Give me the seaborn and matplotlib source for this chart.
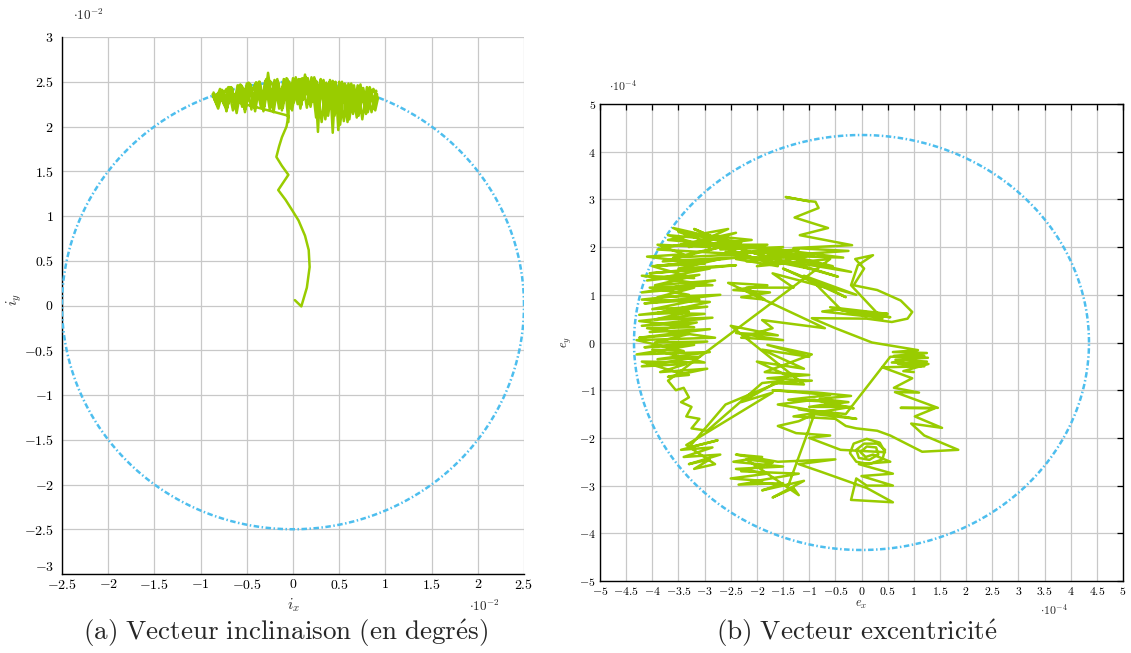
import numpy as np
import pandas as pd
import matplotlib
matplotlib.use("Agg")
import matplotlib.pyplot as plt
import seaborn as sns

# ---------------- DATA ----------------
# (a) inclination vector, units of 1e-2 deg
incl_radius = 2.5
incl_stem = [(0.02, 0.06), (0.09, -0.01), (0.15, 0.20), (0.18, 0.43), (0.17, 0.62), (0.13, 0.78),
             (0.06, 0.95), (0.00, 1.05), (-0.08, 1.18), (-0.16, 1.29), (-0.05, 1.46), (-0.12, 1.56),
             (-0.18, 1.66), (-0.15, 1.78), (-0.12, 1.88), (-0.07, 2.00), (-0.05, 2.12)]
incl_sweep1 = [(-0.85, 2.34), (-0.82, 2.24), (-0.76, 2.40), (-0.72, 2.18), (-0.66, 2.43), (-0.62, 2.20),
               (-0.56, 2.45), (-0.52, 2.16), (-0.46, 2.47), (-0.42, 2.21), (-0.36, 2.50), (-0.32, 2.17),
               (-0.27, 2.60), (-0.22, 2.22), (-0.17, 2.49), (-0.12, 2.26), (-0.07, 2.51), (-0.02, 2.20),
               (0.03, 2.52), (0.08, 2.28), (0.13, 2.58), (0.18, 2.25), (0.23, 2.53), (0.28, 2.20),
               (0.33, 2.50), (0.38, 2.24), (0.43, 2.49), (0.48, 2.18), (0.53, 2.47), (0.58, 2.22),
               (0.63, 2.46), (0.68, 2.19), (0.73, 2.44), (0.78, 2.23), (0.83, 2.41), (0.88, 2.20),
               (0.91, 2.36)]
incl_sweep2 = [(0.86, 2.40), (0.81, 2.16), (0.76, 2.43), (0.71, 2.12), (0.66, 2.46), (0.61, 2.08),
               (0.56, 2.47), (0.51, 2.02), (0.46, 2.49), (0.43, 1.93), (0.40, 2.50), (0.35, 2.15),
               (0.30, 2.52), (0.27, 1.94), (0.24, 2.51), (0.19, 2.22), (0.14, 2.55), (0.09, 2.24),
               (0.04, 2.50), (-0.01, 2.18), (-0.06, 2.53), (-0.11, 2.21), (-0.16, 2.50), (-0.21, 2.16),
               (-0.26, 2.52), (-0.31, 2.22), (-0.36, 2.48), (-0.41, 2.17), (-0.46, 2.46), (-0.51, 2.22),
               (-0.56, 2.44), (-0.61, 2.15), (-0.66, 2.42), (-0.71, 2.22), (-0.76, 2.39), (-0.81, 2.20),
               (-0.86, 2.33)]
incl_sweep3 = [(-0.80, 2.38), (-0.74, 2.23), (-0.69, 2.44), (-0.63, 2.24), (-0.58, 2.46), (-0.53, 2.25),
               (-0.48, 2.49), (-0.43, 2.26), (-0.38, 2.48), (-0.33, 2.24), (-0.29, 2.53), (-0.24, 2.27),
               (-0.19, 2.50), (-0.14, 2.24), (-0.09, 2.52), (-0.05, 2.05), (-0.04, 2.50), (0.01, 2.27),
               (0.06, 2.53), (0.11, 2.30), (0.16, 2.54), (0.21, 2.28), (0.26, 2.50), (0.31, 2.05),
               (0.36, 2.49), (0.41, 2.28), (0.46, 2.50), (0.49, 1.96), (0.54, 2.45), (0.59, 2.05),
               (0.64, 2.45), (0.69, 2.10), (0.74, 2.43), (0.79, 2.14), (0.84, 2.40), (0.89, 2.18),
               (0.92, 2.32)]
incl_sweep4 = [(0.87, 2.42), (0.80, 2.30), (0.72, 2.45), (0.64, 2.32), (0.56, 2.48), (0.48, 2.33),
               (0.40, 2.50), (0.32, 2.34), (0.24, 2.52), (0.16, 2.35), (0.08, 2.53), (0.00, 2.36),
               (-0.08, 2.51), (-0.16, 2.34), (-0.24, 2.50), (-0.32, 2.35), (-0.40, 2.49), (-0.48, 2.33),
               (-0.56, 2.46), (-0.64, 2.32), (-0.72, 2.42), (-0.80, 2.30), (-0.87, 2.36)]
incl_sweep5 = [(-0.84, 2.28), (-0.79, 2.42), (-0.75, 2.26), (-0.70, 2.44), (-0.65, 2.18), (-0.60, 2.46),
               (-0.55, 2.22), (-0.50, 2.48), (-0.45, 2.19), (-0.40, 2.49), (-0.35, 2.23), (-0.30, 2.51),
               (-0.25, 2.18), (-0.20, 2.52), (-0.15, 2.20), (-0.10, 2.53), (-0.05, 2.22), (0.00, 2.54),
               (0.05, 2.25), (0.10, 2.54), (0.15, 2.21), (0.20, 2.55), (0.25, 2.10), (0.30, 2.53),
               (0.35, 2.08), (0.40, 2.52), (0.45, 2.12), (0.50, 2.50), (0.55, 2.06), (0.60, 2.48),
               (0.65, 2.14), (0.70, 2.46), (0.75, 2.08), (0.80, 2.44), (0.85, 2.16), (0.90, 2.40)]
incl_sweep6 = [(0.88, 2.28), (0.83, 2.44), (0.78, 2.18), (0.73, 2.47), (0.68, 2.24), (0.63, 2.48),
               (0.58, 2.15), (0.53, 2.50), (0.48, 2.26), (0.43, 2.51), (0.38, 2.12), (0.33, 2.52),
               (0.28, 2.30), (0.23, 2.55), (0.18, 2.30), (0.13, 2.52), (0.08, 2.20), (0.03, 2.55),
               (-0.02, 2.30), (-0.07, 2.54), (-0.12, 2.18), (-0.17, 2.53), (-0.22, 2.30), (-0.27, 2.51),
               (-0.32, 2.20), (-0.37, 2.50), (-0.42, 2.28), (-0.47, 2.48), (-0.52, 2.19), (-0.57, 2.47),
               (-0.62, 2.27), (-0.67, 2.44), (-0.72, 2.17), (-0.77, 2.41), (-0.82, 2.27), (-0.86, 2.38)]
incl_xticks = [-2.5, -2, -1.5, -1, -0.5, 0, 0.5, 1, 1.5, 2, 2.5]
incl_yticks = [-3, -2.5, -2, -1.5, -1, -0.5, 0, 0.5, 1, 1.5, 2, 2.5, 3]

# (b) eccentricity vector, units of 1e-4
ecc_radius = 4.35
ecc_spike = [(-1.00, 2.96), (-1.45, 3.05), (-1.05, 2.97), (-0.88, 2.95), (-0.82, 2.82), (-1.28, 2.62),
             (-0.64, 2.40), (-1.18, 2.25), (-0.18, 2.04)]
ecc_band = [(-1.30, 1.98), (-0.25, 1.92), (-1.65, 1.82), (-0.35, 1.78), (-2.10, 2.02), (-0.55, 1.60),
            (-1.90, 1.90), (-0.20, 1.48), (-1.40, 1.70), (-0.45, 1.38), (-2.30, 1.95), (-1.00, 1.55),
            (-2.60, 1.90), (-1.20, 1.85), (-2.40, 1.75), (-1.60, 1.60)]
ecc_upleft = [(-3.50, 2.32), (-2.30, 2.10), (-3.45, 2.05), (-2.20, 2.00), (-3.70, 2.15), (-2.55, 2.38),
              (-3.30, 2.00), (-2.40, 2.30), (-3.90, 1.95), (-2.30, 1.85), (-3.60, 1.78), (-2.50, 2.05),
              (-3.80, 1.70), (-2.20, 1.80), (-3.95, 1.60), (-2.70, 1.75), (-3.50, 1.55), (-2.40, 1.62)]
ecc_left = [(-4.05, 1.45), (-2.90, 1.55), (-4.10, 1.30), (-3.10, 1.42), (-3.95, 1.20), (-2.80, 1.30),
            (-4.20, 1.05), (-3.20, 1.15), (-3.90, 0.95), (-2.70, 1.00), (-4.15, 0.82), (-3.10, 0.90),
            (-4.00, 0.70), (-2.95, 0.75), (-4.25, 0.58), (-3.30, 0.65), (-3.95, 0.48), (-2.85, 0.52),
            (-4.20, 0.35), (-3.15, 0.42), (-4.05, 0.22), (-2.90, 0.28), (-4.25, 0.10), (-3.30, 0.18),
            (-3.95, 0.00), (-2.95, 0.02), (-4.15, -0.10), (-3.20, -0.05), (-4.30, -0.25), (-2.90, -0.20),
            (-3.90, -0.35), (-3.10, -0.30), (-4.20, -0.50), (-3.35, -0.45), (-3.85, -0.62), (-2.95, -0.55),
            (-3.70, -0.72), (-3.30, -0.68)]
ecc_left2 = [(-3.60, -0.60), (-4.20, -0.40), (-3.00, -0.42), (-4.00, -0.15), (-3.40, -0.18), (-4.30, 0.05),
             (-2.80, 0.10), (-4.10, 0.30), (-3.20, 0.32), (-4.25, 0.45), (-3.00, 0.60), (-3.90, 0.62),
             (-2.90, 0.85), (-4.20, 0.90), (-3.30, 1.00), (-4.05, 1.15), (-2.85, 1.20), (-4.20, 1.40),
             (-3.20, 1.35), (-4.00, 1.60), (-3.00, 1.65), (-4.10, 1.80), (-3.40, 1.85), (-3.90, 2.05),
             (-2.90, 2.00), (-3.70, 2.25), (-3.20, 2.20)]
ecc_upleft2 = [(-3.60, 2.40), (-2.80, 2.20), (-3.40, 2.30), (-2.60, 2.10), (-3.20, 2.38), (-2.40, 2.00),
               (-3.00, 2.25), (-2.10, 2.15), (-2.90, 2.05), (-1.80, 2.05), (-2.70, 1.95), (-1.50, 2.00),
               (-2.50, 1.85), (-1.20, 1.95), (-2.20, 1.70), (-0.90, 1.85), (-2.00, 1.60), (-0.60, 1.75)]
ecc_descent = [(-3.70, -0.80), (-3.55, -1.00), (-3.40, -0.95), (-3.30, -1.15), (-3.45, -1.25),
               (-3.25, -1.35), (-3.35, -1.55), (-3.10, -1.60), (-3.25, -1.80), (-2.95, -1.85),
               (-1.90, -0.85), (-1.50, -0.80), (-2.60, -1.30), (-3.30, -2.20)]
ecc_lowleft = [(-2.75, -2.05), (-3.45, -2.25), (-2.85, -2.20), (-3.40, -2.40), (-2.70, -2.35),
               (-3.30, -2.55), (-2.90, -2.45), (-3.20, -2.65), (-2.80, -2.55), (-3.35, -2.15)]
ecc_mid = [(-1.70, -1.05), (-2.30, -1.25), (-1.40, -0.70), (-2.00, -0.40), (-1.10, -0.55), (-1.90, -0.15),
           (-1.00, -0.30), (-1.80, -0.05), (-0.95, -0.25), (-1.85, -0.62), (-1.00, -0.68), (-1.80, -0.75),
           (-0.95, -0.80), (-1.70, -0.85), (-1.10, -0.88), (-2.50, 0.35), (-1.60, 0.15), (-2.40, 0.20),
           (-1.50, 0.05), (-2.30, 0.10), (-1.70, 0.30), (-1.90, 0.47), (-0.70, 0.30), (-2.55, 1.25),
           (-1.80, 1.20), (-2.45, 1.10), (-1.75, 1.05), (-2.30, 0.95), (-1.85, 0.90), (-2.20, 1.15),
           (-1.30, 1.15)]
ecc_diag = [(-1.70, 1.45), (-0.50, 1.10), (-1.50, 1.55), (-0.30, 0.95), (-1.10, 1.40), (-0.10, 1.00),
            (-0.90, 1.25), (-0.40, 0.70), (-0.75, 0.65), (0.10, 0.55), (-0.60, 0.74), (0.50, 0.60),
            (-0.40, 0.68), (0.55, 0.53), (-0.20, 0.62), (0.40, 0.50), (-0.20, 1.20), (-0.07, 1.62),
            (0.22, 1.83), (-0.12, 1.75)]
ecc_loop = [(0.05, 1.55), (-0.15, 1.20), (0.30, 1.10), (0.75, 0.88), (0.97, 0.64), (0.88, 0.50),
            (0.58, 0.43), (0.10, 0.50), (-0.95, 0.51), (-0.50, 0.30), (0.20, 0.00), (1.08, -0.16)]
ecc_right = [(0.60, -0.20), (1.25, -0.22), (0.62, -0.28), (1.27, -0.32), (0.65, -0.36), (1.25, -0.40),
             (0.70, -0.45), (1.20, -0.50), (0.40, -0.52), (0.97, -0.75), (0.62, -0.95), (1.10, -1.05),
             (0.64, -1.04), (1.46, -1.37), (0.75, -1.37), (1.40, -1.38), (1.02, -1.55), (1.54, -1.79),
             (0.95, -1.70), (1.20, -1.95), (1.85, -2.25), (1.16, -2.29), (0.55, -1.95), (0.30, -1.85)]
ecc_stairs = [(-0.10, -1.80), (-0.30, -1.75), (-0.50, -1.60), (-1.30, -1.55), (-0.20, -1.35),
              (-1.00, -1.35), (-0.40, -1.25), (-1.40, -1.20), (-0.60, -1.10), (-1.70, -1.00),
              (-0.85, -1.05), (-0.20, -1.12), (-0.80, -1.18), (-0.25, -1.25), (-0.70, -1.30),
              (-0.15, -1.38), (-0.90, -1.20), (-1.60, -1.30), (-0.80, -1.45), (-1.20, -1.65),
              (-1.60, -1.75), (-1.25, -1.90), (-0.60, -1.95), (-1.00, -2.00), (-0.40, -2.25)]
ecc_spiral = [(0.45, -2.30), (0.35, -2.10), (0.10, -2.02), (-0.15, -2.12), (-0.22, -2.32), (-0.10, -2.50),
              (0.15, -2.55), (0.40, -2.45), (0.45, -2.25), (0.30, -2.12), (0.05, -2.12), (-0.10, -2.25),
              (-0.05, -2.42), (0.15, -2.46), (0.32, -2.35), (0.28, -2.20), (0.10, -2.18), (-0.02, -2.30),
              (0.08, -2.40), (0.22, -2.35)]
ecc_bottom = [(0.55, -2.50), (-0.05, -2.55), (0.60, -2.75), (0.00, -2.80), (0.60, -3.00), (0.10, -3.00),
              (-0.10, -2.85), (-0.20, -3.30), (0.60, -3.35), (0.10, -3.05), (-0.80, -2.70), (-1.20, -2.55),
              (-0.50, -2.45), (-1.60, -2.50)]
ecc_botleft = [(-2.40, -2.35), (-1.90, -2.40), (-2.45, -2.50), (-1.50, -2.60), (-2.40, -2.65),
               (-1.80, -2.75), (-2.50, -2.85), (-1.90, -2.90), (-2.35, -2.98), (-1.50, -2.95),
               (-1.90, -3.10), (-1.10, -2.90), (-1.70, -3.25), (-1.30, -3.05), (-1.20, -3.20)]
ecc_extra = [(-2.20, -2.45), (-1.70, -2.52), (-2.30, -2.70), (-1.20, -2.75), (-2.10, -2.92),
             (-1.40, -3.00), (-0.90, -1.50), (-0.10, -1.60), (-1.20, -1.40), (-0.30, -1.50),
             (0.55, -0.30), (1.20, -0.28), (0.58, -0.42), (1.28, -0.45), (0.80, -0.60), (1.00, -0.62)]
ecc_xticks = [-5, -4.5, -4, -3.5, -3, -2.5, -2, -1.5, -1, -0.5, 0, 0.5, 1, 1.5, 2, 2.5, 3, 3.5, 4, 4.5, 5]
ecc_yticks = [-5, -4, -3, -2, -1, 0, 1, 2, 3, 4, 5]

# ---------------- STYLE ----------------
GREEN = "#99CC00"
BLUE = "#4DBEEE"
GRID = "#c8c8c8"

sns.set_theme(style="white")
plt.rcParams["mathtext.fontset"] = "cm"
plt.rcParams["font.family"] = ["cmr10", "DejaVu Serif"]
plt.rcParams["axes.unicode_minus"] = False

W, H = 1131, 653
fig = plt.figure(figsize=(W / 100, H / 100), dpi=100)


def px_axes(l, r, t, b):
    return fig.add_axes([l / W, 1 - b / H, (r - l) / W, (b - t) / H])


def fmt(v):
    return f"${v:g}$"


def traj_frame(segments):
    pts = [p for seg in segments for p in seg]
    return pd.DataFrame({"x": [p[0] for p in pts], "y": [p[1] for p in pts],
                         "order": np.arange(len(pts))})


def circle_frame(r):
    th = np.linspace(0, 2 * np.pi, 400)
    return pd.DataFrame({"x": r * np.cos(th), "y": r * np.sin(th), "order": np.arange(len(th))})


circ_ls = (0, (2.2, 1.0, 0.6, 1.0))

# ---------------- (a) ----------------
ax1 = px_axes(62, 524, 37, 574)
sns.lineplot(data=circle_frame(incl_radius), x="x", y="y", sort=False, estimator=None,
             color=BLUE, lw=1.8, linestyle=circ_ls, ax=ax1, zorder=3)
sns.lineplot(data=traj_frame([incl_stem, incl_sweep1, incl_sweep2, incl_sweep3, incl_sweep4,
                              incl_sweep5, incl_sweep6]),
             x="x", y="y", sort=False, estimator=None, color=GREEN, lw=1.8, ax=ax1, zorder=4)
ax1.set_xlim(-2.5, 2.5)
ax1.set_ylim(-3, 3)
ax1.set_xticks(incl_xticks)
ax1.set_xticklabels([fmt(v) for v in incl_xticks])
ax1.set_yticks(incl_yticks)
ax1.set_yticklabels([fmt(v) for v in incl_yticks])
ax1.get_yticklabels()[0].set_va("bottom")
ax1.grid(True, color=GRID, lw=0.9)
ax1.set_axisbelow(True)
for s in ["top", "right"]:
    ax1.spines[s].set_visible(False)
for s in ["left", "bottom"]:
    ax1.spines[s].set_color("black")
    ax1.spines[s].set_linewidth(1.0)
ax1.tick_params(axis="x", direction="in", length=4, width=0.9, colors="black", labelsize=10, pad=3)
ax1.tick_params(axis="y", direction="out", length=4, width=0.9, colors="black", labelsize=10, pad=2)
ax1.set_xlabel("")
ax1.set_ylabel("")

# ---------------- (b) ----------------
ax2 = px_axes(600, 1123, 104, 581)
sns.lineplot(data=circle_frame(ecc_radius), x="x", y="y", sort=False, estimator=None,
             color=BLUE, lw=1.8, linestyle=circ_ls, ax=ax2, zorder=3)
sns.lineplot(data=traj_frame([ecc_spike, ecc_band, ecc_upleft, ecc_left, ecc_left2, ecc_upleft2,
                              ecc_descent, ecc_lowleft, ecc_mid, ecc_diag, ecc_loop, ecc_right,
                              ecc_stairs, ecc_spiral, ecc_bottom, ecc_botleft, ecc_extra]),
             x="x", y="y", sort=False, estimator=None, color=GREEN, lw=1.8, ax=ax2, zorder=4)
ax2.set_xlim(-5, 5)
ax2.set_ylim(-5, 5)
ax2.set_xticks(ecc_xticks)
ax2.set_xticklabels([fmt(v) for v in ecc_xticks])
ax2.set_yticks(ecc_yticks)
ax2.set_yticklabels([fmt(v) for v in ecc_yticks])
ax2.grid(True, color=GRID, lw=0.9)
ax2.set_axisbelow(True)
for s in ["top", "right", "left", "bottom"]:
    ax2.spines[s].set_color("black")
    ax2.spines[s].set_linewidth(1.0)
ax2.tick_params(axis="both", direction="in", length=4, width=0.9, colors="black", labelsize=8.5,
                top=True, right=True, pad=3)
ax2.set_xlabel("")
ax2.set_ylabel("")

# ---------------- texts ----------------
def ftext(x, y, s, **kw):
    fig.text(x / W, 1 - y / H, s, **kw)


ftext(88, 15, r"$\cdot 10^{-2}$", fontsize=9.5, ha="center", va="center")
ftext(484, 606, r"$\cdot 10^{-2}$", fontsize=9.5, ha="center", va="center")
ftext(293, 605, r"$i_x$", fontsize=11, ha="center", va="center")
ftext(14, 300, r"$i_y$", fontsize=11, ha="center", va="center", rotation=90)

ftext(623, 86, r"$\cdot 10^{-4}$", fontsize=8.5, ha="center", va="center")
ftext(1054, 610, r"$\cdot 10^{-4}$", fontsize=8.5, ha="center", va="center")
ftext(861, 605, r"$e_x$", fontsize=9, ha="center", va="center")
ftext(567, 342, r"$e_y$", fontsize=9, ha="center", va="center", rotation=90)

ftext(286, 633, r"$\mathrm{(a)\ Vecteur\ inclinaison\ (en\ degr\acute{e}s)}$", fontsize=19.5,
      ha="center", va="center")
ftext(857, 633, r"$\mathrm{(b)\ Vecteur\ excentricit\acute{e}}$", fontsize=19.5,
      ha="center", va="center")

fig.savefig("out.png", dpi=100, facecolor="white")
